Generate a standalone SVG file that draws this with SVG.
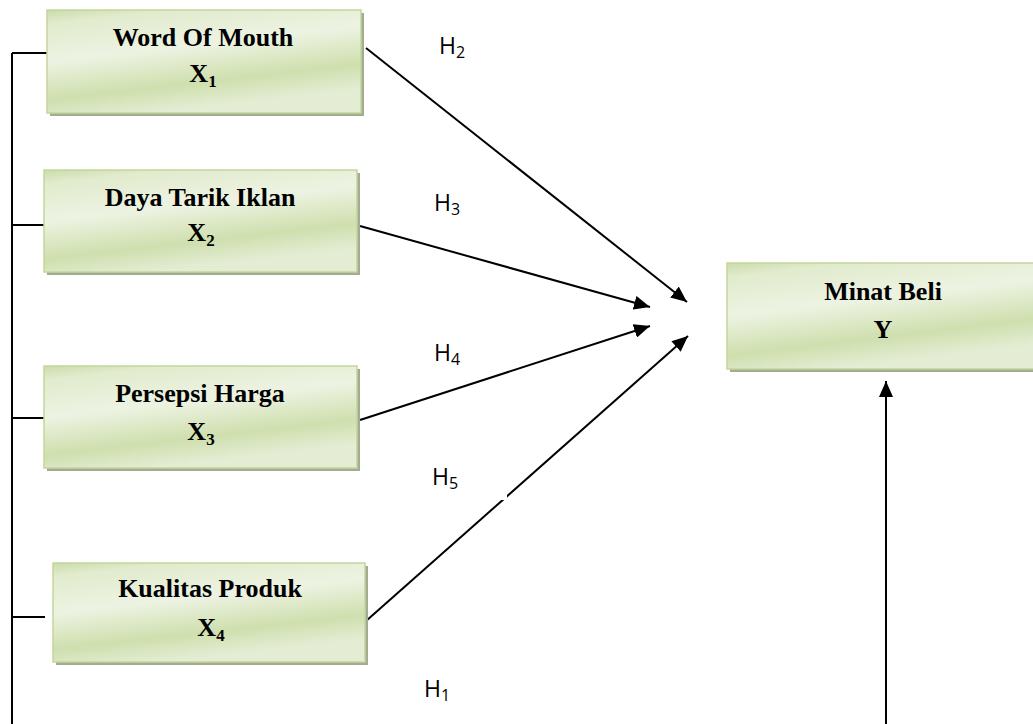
<svg xmlns="http://www.w3.org/2000/svg" width="1033" height="724" viewBox="0 0 1033 724">
<defs>
<linearGradient id="moss" x1="0" y1="0" x2="0.35" y2="1">
<stop offset="0" stop-color="#cadcaa"/>
<stop offset="0.12" stop-color="#e1ebcd"/>
<stop offset="0.45" stop-color="#edf3e2"/>
<stop offset="0.78" stop-color="#cfdfae"/>
<stop offset="1" stop-color="#e4edd4"/>
</linearGradient>
<marker id="arr" markerUnits="userSpaceOnUse" markerWidth="18" markerHeight="14" refX="16" refY="7" orient="auto">
<path d="M0,0 L16,7 L0,14 Z" fill="#000"/>
</marker>
<style>
.shadow{fill:#a3ab92}
.box{fill:url(#moss);stroke:#c3d69b;stroke-width:1.5}
.t{font-family:"Liberation Serif","Times New Roman",serif;font-weight:bold;font-size:26px;fill:#000;text-anchor:middle}
.sub{font-size:17px}
.h{font-family:"Open Sans","Liberation Sans",sans-serif;font-size:23px;fill:#000}
.hs{font-size:16px}
.ln{stroke:#000;stroke-width:2;fill:none}
</style>
</defs>
<rect width="1033" height="724" fill="#fff"/>
<g id="connectors">
<path class="ln" d="M12,53 V724 M12,53 H47 M12,225 H44 M12,418 H44 M12,617 H45"/>
<line class="ln" x1="366" y1="48" x2="687" y2="302" marker-end="url(#arr)"/>
<line class="ln" x1="360" y1="226" x2="650" y2="307" marker-end="url(#arr)"/>
<line class="ln" x1="360" y1="420" x2="650" y2="326" marker-end="url(#arr)"/>
<line class="ln" x1="366" y1="621" x2="688" y2="336" marker-end="url(#arr)"/>
<line class="ln" x1="886" y1="724" x2="886" y2="381" marker-end="url(#arr)"/>
</g>
<g id="labels">
<text class="h" x="439" y="54">H<tspan class="hs" dy="4">2</tspan></text>
<text class="h" x="434" y="211">H<tspan class="hs" dy="4">3</tspan></text>
<text class="h" x="434" y="361">H<tspan class="hs" dy="4">4</tspan></text>
<rect x="412" y="449" width="95" height="51" fill="#fff"/>
<text class="h" x="432" y="485">H<tspan class="hs" dy="4">5</tspan></text>
<rect x="403" y="677" width="118" height="47" fill="#fff"/>
<text class="h" x="424" y="697">H<tspan class="hs" dy="4">1</tspan></text>
</g>
<g id="node-x1">
<rect class="shadow" x="50" y="13" width="314" height="103"/>
<rect class="box" x="47" y="10" width="314" height="103"/>
<text class="t" x="203" y="46">Word Of Mouth</text>
<text class="t" x="203" y="82">X<tspan class="sub" dy="5">1</tspan></text>
</g>
<g id="node-x2">
<rect class="shadow" x="47" y="173" width="313" height="102"/>
<rect class="box" x="44" y="170" width="313" height="102"/>
<text class="t" x="200" y="206">Daya Tarik Iklan</text>
<text class="t" x="201" y="241">X<tspan class="sub" dy="5">2</tspan></text>
</g>
<g id="node-x3">
<rect class="shadow" x="47" y="369" width="313" height="102"/>
<rect class="box" x="44" y="366" width="313" height="102"/>
<text class="t" x="200" y="402">Persepsi Harga</text>
<text class="t" x="201" y="440">X<tspan class="sub" dy="5">3</tspan></text>
</g>
<g id="node-x4">
<rect class="shadow" x="56" y="566" width="312" height="99"/>
<rect class="box" x="53" y="563" width="312" height="99"/>
<text class="t" x="210" y="597">Kualitas Produk</text>
<text class="t" x="211" y="636">X<tspan class="sub" dy="5">4</tspan></text>
</g>
<g id="node-y">
<rect class="shadow" x="730" y="266" width="310" height="106"/>
<rect class="box" x="727" y="263" width="310" height="106"/>
<text class="t" x="883" y="300">Minat Beli</text>
<text class="t" x="883" y="338">Y</text>
</g>
</svg>
